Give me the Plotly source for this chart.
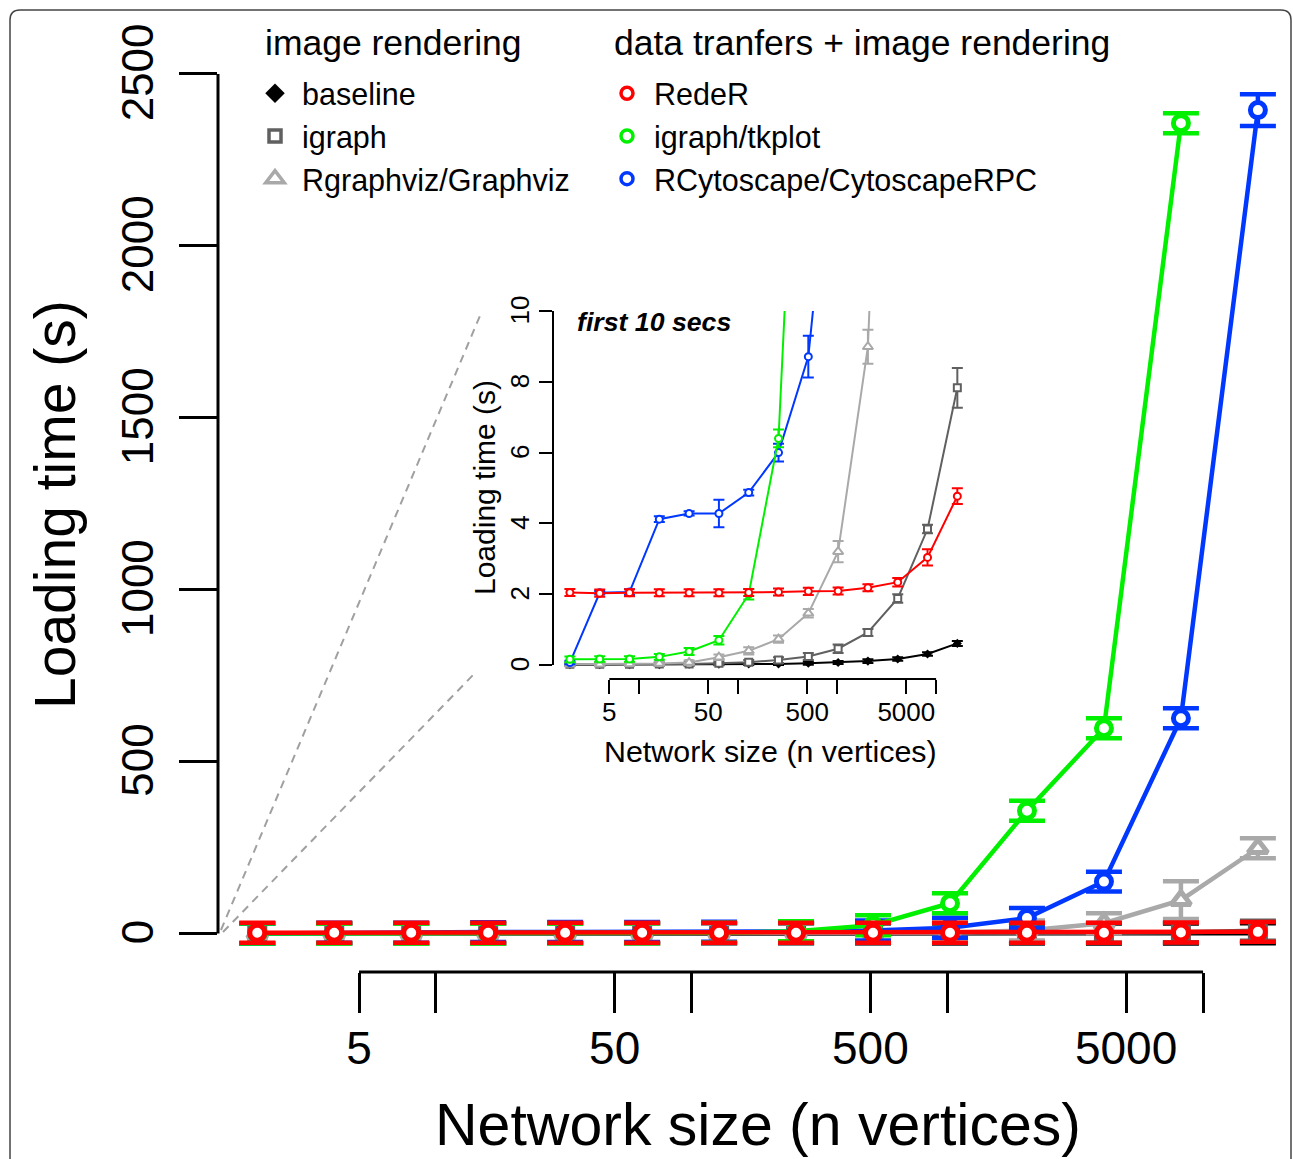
import plotly.graph_objects as go

W, H = 1293, 1159

# ---------------- data ----------------
sizes = [2, 4, 8, 16, 32, 64, 128, 256, 512, 1024, 2048, 4096, 8192, 16384]

baseline = [0.01, 0.01, 0.01, 0.01, 0.02, 0.02, 0.03, 0.03, 0.05, 0.07, 0.11, 0.17, 0.31, 0.61]
baseline_err = [0.03, 0.03, 0.03, 0.03, 0.03, 0.03, 0.03, 0.03, 0.04, 0.04, 0.05, 0.05, 0.05, 0.07]

igraph = [0.02, 0.02, 0.02, 0.03, 0.03, 0.05, 0.08, 0.14, 0.24, 0.46, 0.92, 1.88, 3.84, 7.83]
igraph_err = [0.05, 0.05, 0.05, 0.05, 0.05, 0.05, 0.06, 0.08, 0.1, 0.12, 0.1, 0.12, 0.12, 0.56]

rgraphviz = [0.02, 0.02, 0.03, 0.04, 0.07, 0.22, 0.40, 0.73, 1.46, 3.20, 8.99, 30, 97, 248]
rgraphviz_err = [0.05, 0.05, 0.05, 0.05, 0.06, 0.08, 0.1, 0.1, 0.12, 0.3, 0.48, 0.6, 1.0, 2.0]

reder = [2.05, 2.03, 2.04, 2.04, 2.04, 2.04, 2.05, 2.06, 2.08, 2.09, 2.18, 2.34, 3.04, 4.77]
reder_err = [0.1, 0.1, 0.1, 0.1, 0.1, 0.1, 0.1, 0.1, 0.1, 0.1, 0.1, 0.12, 0.23, 0.22]

tkplot = [0.16, 0.17, 0.17, 0.23, 0.38, 0.70, 2.0, 6.4, 24, 88, 357, 597, 2357]
tkplot_err = [0.08, 0.08, 0.08, 0.08, 0.1, 0.12, 0.15, 0.25, 1.0, 2.0, 3.0, 4.0, 5.0]

rcytoscape = [0.07, 2.04, 2.06, 4.12, 4.28, 4.28, 4.87, 6.0, 8.71, 17, 45, 151, 626, 2395]
rcytoscape_err = [0.05, 0.05, 0.08, 0.08, 0.06, 0.39, 0.08, 0.25, 0.59, 1.0, 2.0, 3.0, 4.0, 8.0]

# error bar half-lengths as drawn in the full-range panel (seconds)
baseline_err_main = [29] * 14
igraph_err_main = [29] * 14
rgraphviz_err_main = [29, 29, 29, 29, 29, 29, 29, 29, 29, 29, 29, 29, 55, 29]
reder_err_main = [29] * 14
tkplot_err_main = [29] * 13
rcytoscape_err_main = [29, 29, 29, 29, 29, 29, 29, 29, 29, 29, 29, 29, 29, 46]

main_yticks = [0, 500, 1000, 1500, 2000, 2500]
inset_yticks = [0, 2, 4, 6, 8, 10]
x_tickvals = [5, 10, 50, 100, 500, 1000, 5000, 10000]
x_ticktext = ["5", "", "50", "", "500", "", "5000", ""]

# ---------------- styles ----------------
series = [
    # name, values, inset err, main err, color, symbol, filled, legend
    ("baseline", baseline, baseline_err, baseline_err_main, "#000000", "diamond", True, "legend"),
    ("igraph", igraph, igraph_err, igraph_err_main, "#606060", "square", False, "legend"),
    ("Rgraphviz/Graphviz", rgraphviz, rgraphviz_err, rgraphviz_err_main, "#A9A9A9", "triangle-up", False, "legend"),
    ("RCytoscape/CytoscapeRPC", rcytoscape, rcytoscape_err, rcytoscape_err_main, "#0038FF", "circle", False, "legend2"),
    ("igraph/tkplot", tkplot, tkplot_err, tkplot_err_main, "#00F000", "circle", False, "legend2"),
    ("RedeR", reder, reder_err, reder_err_main, "#FF0000", "circle", False, "legend2"),
]
legend_order = ["baseline", "igraph", "Rgraphviz/Graphviz", "RedeR", "igraph/tkplot", "RCytoscape/CytoscapeRPC"]

def px_x(p):
    return p / W

def px_y(p):
    return 1 - p / H

FONT = "Liberation Sans, Arial, sans-serif"

fig = go.Figure()

# main panel
for name, vals, ierr, merr, col, sym, filled, leg in series:
    xs = sizes[:len(vals)]
    fig.add_trace(go.Scatter(
        x=xs, y=vals, mode="lines+markers", xaxis="x", yaxis="y",
        line=dict(color=col, width=4.5),
        marker=dict(symbol=sym, size=15 if sym != "triangle-up" else 17,
                    color=col if filled else "white",
                    line=dict(color=col, width=5 if not filled else 0)),
        error_y=dict(type="data", array=merr, color=col, thickness=4.5, width=18),
        showlegend=False, hoverinfo="skip",
    ))

# inset panel
for name, vals, ierr, merr, col, sym, filled, leg in series:
    xs = sizes[:len(vals)]
    fig.add_trace(go.Scatter(
        x=xs, y=vals, mode="lines+markers", xaxis="x2", yaxis="y2",
        line=dict(color=col, width=2),
        marker=dict(symbol=sym, size=7 if sym != "triangle-up" else 9,
                    color=col if filled else "white",
                    line=dict(color=col, width=2 if not filled else 0)),
        error_y=dict(type="data", array=ierr, color=col, thickness=2, width=5.5),
        showlegend=False, hoverinfo="skip",
    ))

# legend keys
legend_style = {
    "baseline": dict(symbol="diamond", size=15, color="#000000", line=dict(width=0)),
    "igraph": dict(symbol="square", size=12, color="white", line=dict(color="#606060", width=3.5)),
    "Rgraphviz/Graphviz": dict(symbol="triangle-up", size=16, color="white", line=dict(color="#A9A9A9", width=3.5)),
    "RedeR": dict(symbol="circle", size=12, color="white", line=dict(color="#FF0000", width=3.5)),
    "igraph/tkplot": dict(symbol="circle", size=12, color="white", line=dict(color="#00F000", width=3.5)),
    "RCytoscape/CytoscapeRPC": dict(symbol="circle", size=12, color="white", line=dict(color="#0038FF", width=3.5)),
}
leg_of = {s[0]: s[7] for s in series}
for name in legend_order:
    fig.add_trace(go.Scatter(
        x=[None], y=[None], mode="markers", name=name, legend=leg_of[name],
        legendgroup=name, marker=legend_style[name], xaxis="x", yaxis="y",
    ))

# ---------------- axes ----------------
main_x0, main_x1 = 218, 1290
inset_x0, inset_x1 = 553, 975

fig.update_layout(
    width=W, height=H, autosize=False,
    margin=dict(l=0, r=0, t=0, b=0, autoexpand=False),
    paper_bgcolor="white", plot_bgcolor="rgba(0,0,0,0)",
    font=dict(family=FONT, color="black"),
    xaxis=dict(
        type="log", domain=[px_x(main_x0), px_x(main_x1)], range=[0.1475, 4.3400],
        anchor="free", position=px_y(972), automargin=False,
        tickmode="array", tickvals=x_tickvals, ticktext=x_ticktext,
        ticks="outside", ticklen=40, tickwidth=3, tickcolor="black",
        tickfont=dict(size=46), showgrid=False, zeroline=False, showline=False,
        ticklabelstandoff=-4,
    ),
    yaxis=dict(
        domain=[px_y(955), px_y(60)], range=[-62.5, 2540.7], anchor="x", automargin=False,
        tickmode="array", tickvals=main_yticks, tickangle=-90,
        ticks="outside", ticklen=38, tickwidth=3, tickcolor="black",
        tickfont=dict(size=44), showgrid=False, zeroline=False, showline=False,
        ticklabelstandoff=8, ticklabelshift=5,
    ),
    xaxis2=dict(
        type="log", domain=[px_x(inset_x0), px_x(inset_x1)], range=[0.1303, 4.3929],
        anchor="free", position=px_y(679), automargin=False,
        tickmode="array", tickvals=x_tickvals, ticktext=x_ticktext,
        ticks="outside", ticklen=14, tickwidth=2, tickcolor="black",
        tickfont=dict(size=26), showgrid=False, zeroline=False, showline=False,
        ticklabelstandoff=-4,
    ),
    yaxis2=dict(
        domain=[px_y(673.85), px_y(311)], range=[-0.25, 10], anchor="x2", automargin=False,
        tickmode="array", tickvals=inset_yticks, tickangle=-90,
        ticks="outside", ticklen=13, tickwidth=2, tickcolor="black",
        tickfont=dict(size=26), showgrid=False, zeroline=False, showline=False,
        ticklabelshift=3,
    ),
    legend=dict(
        x=px_x(248), y=px_y(67), xanchor="left", yanchor="top",
        font=dict(size=30.5), itemwidth=44, bgcolor="rgba(0,0,0,0)",
        traceorder="normal", itemclick=False,
    ),
    legend2=dict(
        x=px_x(600), y=px_y(67), xanchor="left", yanchor="top",
        font=dict(size=30.5), itemwidth=44, bgcolor="rgba(0,0,0,0)",
        traceorder="normal", itemclick=False,
    ),
)

# ---------------- shapes ----------------
shapes = []
# axis spines (R style: spanning first to last tick)
shapes.append(dict(type="line", xref="x domain", yref="y", x0=0, x1=0, y0=main_yticks[0], y1=main_yticks[-1],
                   line=dict(color="black", width=3)))
shapes.append(dict(type="line", xref="x", yref="paper", x0=x_tickvals[0], x1=x_tickvals[-1],
                   y0=px_y(972), y1=px_y(972), line=dict(color="black", width=3)))
shapes.append(dict(type="line", xref="x2 domain", yref="y2", x0=0, x1=0, y0=inset_yticks[0], y1=inset_yticks[-1],
                   line=dict(color="black", width=2)))
shapes.append(dict(type="line", xref="x2", yref="paper", x0=x_tickvals[0], x1=x_tickvals[-1],
                   y0=px_y(679), y1=px_y(679), line=dict(color="black", width=2)))
# zoom guide lines
shapes.append(dict(type="line", xref="paper", yref="paper", x0=px_x(221), y0=px_y(930), x1=px_x(482), y1=px_y(311),
                   line=dict(color="#A0A0A0", width=2, dash="8px,6px")))
shapes.append(dict(type="line", xref="paper", yref="paper", x0=px_x(223), y0=px_y(932), x1=px_x(475), y1=px_y(673),
                   line=dict(color="#A0A0A0", width=2, dash="8px,6px")))
# rounded frame
r = 10
fx0, fx1, fy0 = 10, 1291, 10
path = (f"M {px_x(fx0)},{px_y(H + 5)} L {px_x(fx0)},{px_y(fy0 + r)} "
        f"Q {px_x(fx0)},{px_y(fy0)} {px_x(fx0 + r)},{px_y(fy0)} "
        f"L {px_x(fx1 - r)},{px_y(fy0)} Q {px_x(fx1)},{px_y(fy0)} {px_x(fx1)},{px_y(fy0 + r)} "
        f"L {px_x(fx1)},{px_y(H + 5)}")
shapes.append(dict(type="path", xref="paper", yref="paper", path=path, line=dict(color="#444444", width=1.5)))
fig.update_layout(shapes=shapes)

# ---------------- text ----------------
ann = [
    dict(text="Loading time (s)", x=px_x(55), y=px_y(505), textangle=-90, font=dict(size=57)),
    dict(text="Network size (n vertices)", x=px_x(758), y=px_y(1125), font=dict(size=59)),
    dict(text="Network size (n vertices)", x=px_x(770), y=px_y(751), font=dict(size=30.4)),
    dict(text="Loading time (s)", x=px_x(484), y=px_y(488), textangle=-90, font=dict(size=30)),
    dict(text="<b><i>first 10 secs</i></b>", x=px_x(575), y=px_y(322), xanchor="left", font=dict(size=26.7)),
    dict(text="image rendering", x=px_x(263), y=px_y(43), xanchor="left", font=dict(size=35.5)),
    dict(text="data tranfers + image rendering", x=px_x(612), y=px_y(43), xanchor="left", font=dict(size=35.5)),
]
for a in ann:
    a.update(xref="paper", yref="paper", showarrow=False)
    a.setdefault("xanchor", "center")
    a.setdefault("yanchor", "middle")
fig.update_layout(annotations=ann)

fig.write_html(
    "out.html",
    config={"responsive": False, "displayModeBar": False},
    post_script="document.body.style.margin='0px';document.body.style.overflow='hidden';",
)
